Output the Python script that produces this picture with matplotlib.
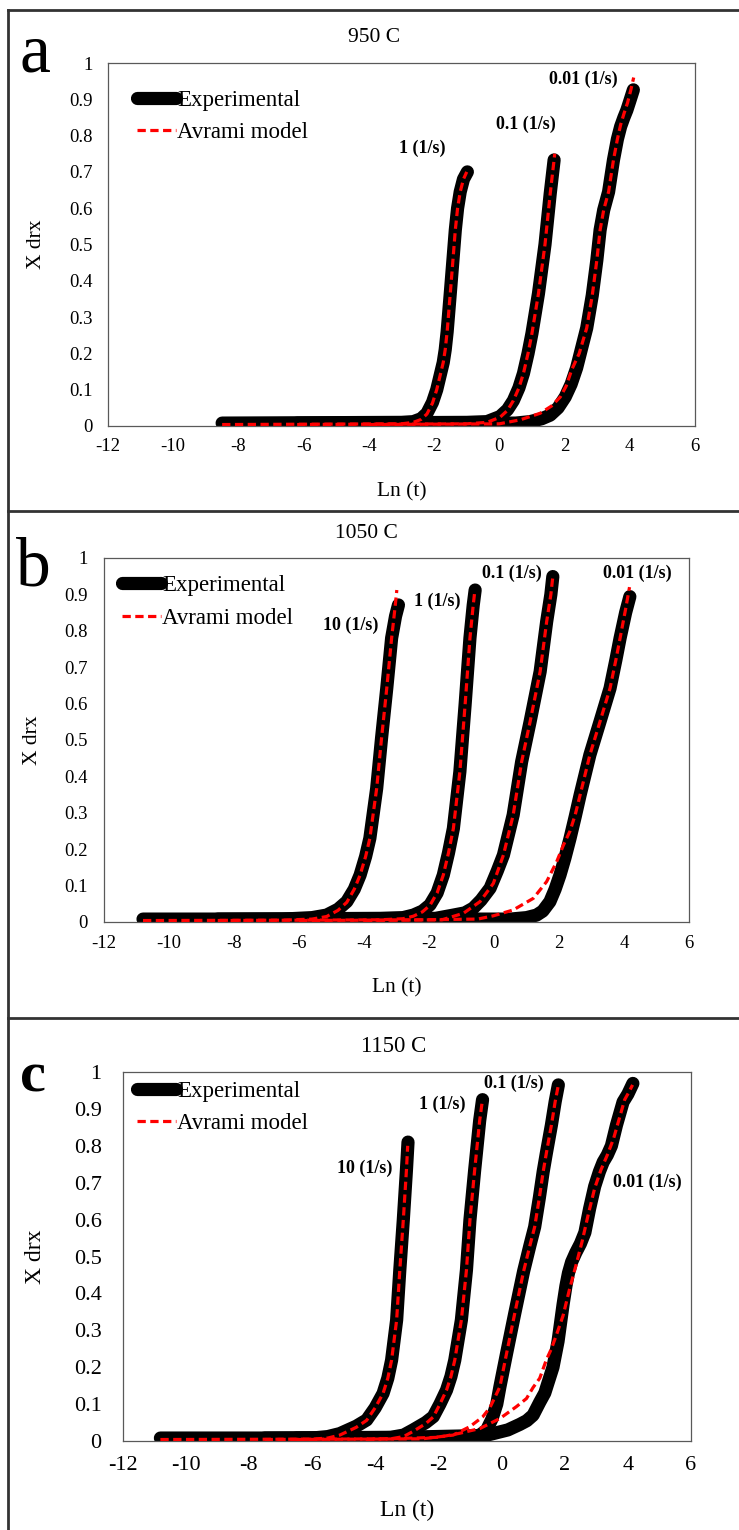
import matplotlib.pyplot as plt
from matplotlib.lines import Line2D

plt.rcParams['font.family'] = ['Liberation Serif', 'DejaVu Serif']

W, H = 739, 1530  # output size in pixels

# ---------------- 950 C (panel a) ----------------
a_exp1_x = [-8.5, -3.0, -2.64, -2.4, -2.22, -2.05, -1.92, -1.8, -1.72, -1.66, -1.6, -1.5, -1.42, -1.35, -1.28, -1.2, -1.1, -0.98]
a_exp1_y = [0.008, 0.01, 0.012, 0.02, 0.035, 0.065, 0.10, 0.145, 0.175, 0.21, 0.26, 0.37, 0.46, 0.54, 0.60, 0.645, 0.68, 0.70]
a_mod1_x = [-8.5, -3.0, -2.64, -2.4, -2.22, -2.05, -1.92, -1.8, -1.72, -1.66, -1.6, -1.5, -1.42, -1.35, -1.28, -1.2, -1.1, -1.0]
a_mod1_y = [0.004, 0.006, 0.01, 0.018, 0.033, 0.063, 0.10, 0.145, 0.175, 0.21, 0.26, 0.37, 0.46, 0.54, 0.60, 0.645, 0.68, 0.70]

a_exp2_x = [-6.2, -1.0, -0.38, 0.02, 0.25, 0.43, 0.6, 0.74, 0.88, 1.0, 1.2, 1.4, 1.56, 1.68]
a_exp2_y = [0.008, 0.01, 0.012, 0.026, 0.045, 0.07, 0.105, 0.145, 0.2, 0.255, 0.365, 0.50, 0.64, 0.733]
a_mod2_x = [-6.2, -1.0, -0.38, 0.02, 0.25, 0.43, 0.6, 0.74, 0.88, 1.0, 1.2, 1.4, 1.56, 1.70]
a_mod2_y = [0.004, 0.006, 0.01, 0.024, 0.043, 0.07, 0.105, 0.145, 0.2, 0.255, 0.365, 0.50, 0.64, 0.75]

a_exp3_x = [-4.0, 0.5, 0.94, 1.3, 1.56, 1.8, 2.02, 2.2, 2.37, 2.68, 2.85, 2.99, 3.09, 3.2, 3.35, 3.5, 3.62, 3.72, 3.82, 3.91, 4.0, 4.11]
a_exp3_y = [0.008, 0.008, 0.012, 0.02, 0.03, 0.05, 0.08, 0.115, 0.16, 0.27, 0.36, 0.457, 0.54, 0.595, 0.645, 0.733, 0.79, 0.825, 0.85, 0.87, 0.895, 0.926]
a_mod3_x = [-4.0, 0.0, 0.64, 1.25, 1.6, 1.87, 2.05, 2.22, 2.45, 2.68, 2.85, 2.99, 3.09, 3.2, 3.35, 3.5, 3.62, 3.72, 3.82, 3.93, 4.03, 4.12]
a_mod3_y = [0.004, 0.006, 0.017, 0.035, 0.055, 0.08, 0.11, 0.155, 0.2, 0.27, 0.36, 0.457, 0.54, 0.595, 0.645, 0.733, 0.79, 0.83, 0.86, 0.89, 0.925, 0.96]

a_rates = ['1 (1/s)', '0.1 (1/s)', '0.01 (1/s)']
a_rate_x = [-2.37, 0.82, 2.57]
a_rate_y = [0.766, 0.83, 0.956]

# ---------------- 1050 C (panel b) ----------------
b_exp1_x = [-10.8, -6.5, -5.6, -5.15, -4.8, -4.53, -4.3, -4.12, -3.95, -3.82, -3.61, -3.46, -3.30, -3.15, -3.03, -2.94]
b_exp1_y = [0.008, 0.008, 0.012, 0.019, 0.035, 0.056, 0.09, 0.129, 0.18, 0.23, 0.367, 0.505, 0.642, 0.78, 0.84, 0.871]
b_mod1_x = [-10.8, -6.5, -5.6, -5.15, -4.8, -4.53, -4.3, -4.12, -3.95, -3.82, -3.61, -3.46, -3.30, -3.15, -3.05, -2.99]
b_mod1_y = [0.004, 0.005, 0.008, 0.015, 0.032, 0.054, 0.09, 0.129, 0.18, 0.23, 0.367, 0.505, 0.642, 0.78, 0.86, 0.912]

b_exp2_x = [-8.5, -3.5, -2.8, -2.48, -2.2, -1.97, -1.75, -1.56, -1.4, -1.25, -1.05, -0.89, -0.74, -0.64, -0.58]
b_exp2_y = [0.008, 0.01, 0.012, 0.019, 0.03, 0.047, 0.08, 0.129, 0.19, 0.257, 0.413, 0.596, 0.78, 0.87, 0.912]
b_mod2_x = [-8.5, -3.5, -2.8, -2.48, -2.2, -1.97, -1.75, -1.56, -1.4, -1.25, -1.05, -0.89, -0.74, -0.64, -0.59]
b_mod2_y = [0.004, 0.006, 0.009, 0.016, 0.028, 0.046, 0.08, 0.129, 0.19, 0.257, 0.413, 0.596, 0.78, 0.87, 0.91]

b_exp3_x = [-6.0, -1.8, -1.25, -0.9, -0.64, -0.4, -0.12, 0.1, 0.29, 0.59, 0.85, 1.11, 1.42, 1.62, 1.75, 1.81]
b_exp3_y = [0.008, 0.01, 0.019, 0.025, 0.038, 0.06, 0.093, 0.14, 0.184, 0.294, 0.44, 0.55, 0.688, 0.825, 0.9, 0.949]
b_mod3_x = [-6.0, -1.6, -0.94, -0.43, -0.02, 0.29, 0.59, 0.85, 1.11, 1.42, 1.62, 1.75, 1.81]
b_mod3_y = [0.004, 0.006, 0.024, 0.056, 0.106, 0.184, 0.294, 0.44, 0.55, 0.688, 0.825, 0.9, 0.949]

b_exp4_x = [-4.0, 0.5, 1.0, 1.31, 1.5, 1.72, 1.88, 2.03, 2.18, 2.34, 2.5, 2.65, 2.95, 3.26, 3.57, 3.75, 3.88, 4.05, 4.18]
b_exp4_y = [0.008, 0.008, 0.012, 0.019, 0.03, 0.056, 0.09, 0.129, 0.175, 0.23, 0.29, 0.349, 0.459, 0.55, 0.642, 0.72, 0.78, 0.85, 0.894]
b_mod4_x = [-4.0, -0.5, -0.02, 0.59, 1.21, 1.62, 1.93, 2.13, 2.34, 2.5, 2.65, 2.95, 3.26, 3.57, 3.75, 3.88, 4.05, 4.17]
b_mod4_y = [0.004, 0.008, 0.017, 0.033, 0.065, 0.111, 0.166, 0.21, 0.25, 0.295, 0.349, 0.459, 0.55, 0.642, 0.72, 0.78, 0.86, 0.92]

b_rates = ['10 (1/s)', '1 (1/s)', '0.1 (1/s)', '0.01 (1/s)']
b_rate_x = [-4.4, -1.74, 0.56, 4.42]
b_rate_y = [0.816, 0.88, 0.958, 0.958]

# ---------------- 1150 C (panel c) ----------------
c_exp1_x = [-10.8, -6.0, -5.5, -5.12, -4.6, -4.27, -4.0, -3.75, -3.6, -3.48, -3.32, -3.22, -3.11, -3.01, -2.96]
c_exp1_y = [0.008, 0.008, 0.012, 0.02, 0.04, 0.057, 0.09, 0.129, 0.17, 0.219, 0.328, 0.463, 0.598, 0.734, 0.81]
c_mod1_x = [-10.8, -6.0, -5.5, -5.12, -4.6, -4.27, -4.0, -3.75, -3.6, -3.48, -3.32, -3.22, -3.11, -3.01, -2.97]
c_mod1_y = [0.004, 0.005, 0.008, 0.016, 0.037, 0.056, 0.09, 0.129, 0.17, 0.219, 0.328, 0.463, 0.598, 0.734, 0.80]

c_exp2_x = [-7.5, -3.5, -3.1, -2.8, -2.4, -2.16, -1.95, -1.74, -1.6, -1.48, -1.27, -1.11, -1.0, -0.85, -0.69, -0.6]
c_exp2_y = [0.008, 0.01, 0.016, 0.03, 0.05, 0.066, 0.1, 0.138, 0.175, 0.219, 0.328, 0.463, 0.598, 0.734, 0.869, 0.925]
c_mod2_x = [-7.5, -3.5, -3.1, -2.8, -2.4, -2.16, -1.95, -1.74, -1.6, -1.48, -1.27, -1.11, -1.0, -0.85, -0.69, -0.61]
c_mod2_y = [0.004, 0.006, 0.012, 0.026, 0.047, 0.065, 0.1, 0.138, 0.175, 0.219, 0.328, 0.463, 0.598, 0.734, 0.869, 0.92]

c_exp3_x = [-6.5, -1.0, -0.7, -0.47, -0.3, -0.15, -0.05, 0.16, 0.42, 0.7, 0.9, 1.05, 1.2, 1.32, 1.42, 1.58, 1.7, 1.8]
c_exp3_y = [0.008, 0.01, 0.015, 0.03, 0.06, 0.10, 0.147, 0.237, 0.346, 0.46, 0.53, 0.58, 0.66, 0.73, 0.78, 0.856, 0.92, 0.965]
c_mod3_x = [-6.5, -2.5, -1.53, -1.0, -0.6, -0.37, -0.2, -0.05, 0.16, 0.42, 0.7, 0.9, 1.05, 1.2, 1.32, 1.42, 1.58, 1.7, 1.79]
c_mod3_y = [0.004, 0.006, 0.016, 0.039, 0.065, 0.09, 0.12, 0.147, 0.237, 0.346, 0.46, 0.53, 0.58, 0.66, 0.73, 0.78, 0.856, 0.92, 0.96]

c_exp4_x = [-4.3, -0.5, 0.2, 0.58, 0.8, 1.0, 1.21, 1.37, 1.5, 1.63, 1.79, 1.95, 2.04, 2.12, 2.22, 2.35, 2.5, 2.64, 2.79, 2.95, 3.1, 3.22, 3.35, 3.48, 3.64, 3.85, 4.0, 4.16]
c_exp4_y = [0.008, 0.015, 0.03, 0.045, 0.055, 0.07, 0.105, 0.13, 0.165, 0.2, 0.27, 0.37, 0.42, 0.455, 0.485, 0.51, 0.535, 0.565, 0.63, 0.69, 0.73, 0.756, 0.775, 0.80, 0.856, 0.919, 0.94, 0.969]
c_mod4_x = [-4.3, -2.0, -1.32, -0.68, -0.05, 0.47, 0.79, 1.0, 1.21, 1.42, 1.58, 1.75, 1.95, 2.15, 2.37, 2.55, 2.75, 2.95, 3.15, 3.35, 3.55, 3.75, 3.9, 4.03, 4.15]
c_mod4_y = [0.004, 0.01, 0.021, 0.034, 0.061, 0.093, 0.115, 0.145, 0.17, 0.22, 0.25, 0.29, 0.34, 0.41, 0.48, 0.54, 0.615, 0.685, 0.735, 0.775, 0.82, 0.88, 0.925, 0.945, 0.965]

c_rates = ['10 (1/s)', '1 (1/s)', '0.1 (1/s)', '0.01 (1/s)']
c_rate_x = [-4.33, -1.89, 0.38, 4.63]
c_rate_y = [0.738, 0.912, 0.97, 0.70]

titles = ['950 C', '1050 C', '1150 C']
letters = ['a', 'b', 'c']
x_ticks = list(range(-12, 7, 2))
y_ticks = [i / 10 for i in range(11)]
y_tick_labels = ['0'] + ['%.1f' % v for v in y_ticks[1:-1]] + ['1']


def px_box(left, right, top, bottom):
    return [left / W, 1 - bottom / H, (right - left) / W, (bottom - top) / H]


fig = plt.figure(figsize=(W / 100, H / 100), dpi=100, facecolor='w')

panels = [
    dict(box=px_box(108, 695, 63, 426),
         exp=[(a_exp1_x, a_exp1_y), (a_exp2_x, a_exp2_y), (a_exp3_x, a_exp3_y)],
         mod=[(a_mod1_x, a_mod1_y), (a_mod2_x, a_mod2_y), (a_mod3_x, a_mod3_y)],
         rates=a_rates, rx=a_rate_x, ry=a_rate_y,
         tick_fs=13.5, lab_fs=15.5, title_fs=15.5, xpad=8.5, ypad=11,
         ylab_x=-0.121, xlab_y=-0.181, leg=(0.05, 0.926),
         title_xy=(374, 38), letter_xy=(20, 72), letter_fs=50, letter_w='normal'),
    dict(box=px_box(104, 689, 558, 922),
         exp=[(b_exp1_x, b_exp1_y), (b_exp2_x, b_exp2_y), (b_exp3_x, b_exp3_y), (b_exp4_x, b_exp4_y)],
         mod=[(b_mod1_x, b_mod1_y), (b_mod2_x, b_mod2_y), (b_mod3_x, b_mod3_y), (b_mod4_x, b_mod4_y)],
         rates=b_rates, rx=b_rate_x, ry=b_rate_y,
         tick_fs=13.5, lab_fs=15.5, title_fs=15.5, xpad=9, ypad=12,
         ylab_x=-0.123, xlab_y=-0.182, leg=(0.031, 0.953),
         title_xy=(366, 533), letter_xy=(16, 585), letter_fs=50, letter_w='normal'),
    dict(box=px_box(122.5, 691, 1072, 1441),
         exp=[(c_exp1_x, c_exp1_y), (c_exp2_x, c_exp2_y), (c_exp3_x, c_exp3_y), (c_exp4_x, c_exp4_y)],
         mod=[(c_mod1_x, c_mod1_y), (c_mod2_x, c_mod2_y), (c_mod3_x, c_mod3_y), (c_mod4_x, c_mod4_y)],
         rates=c_rates, rx=c_rate_x, ry=c_rate_y,
         tick_fs=16, lab_fs=17, title_fs=16.5, xpad=11, ypad=15,
         ylab_x=-0.153, xlab_y=-0.187, leg=(0.025, 0.976),
         title_xy=(394, 1046), letter_xy=(20, 1092), letter_fs=42, letter_w='bold'),
]

for i, p in enumerate(panels):
    ax = fig.add_axes(p['box'])
    exp_lines = []
    for x, y in p['exp']:
        ln, = ax.plot(x, y, color='black', lw=9.5, solid_capstyle='round',
                      solid_joinstyle='round', zorder=2)
        exp_lines.append(ln)
    mod_lines = []
    for x, y in p['mod']:
        ln, = ax.plot(x, y, color='#ff0000', lw=2.3, linestyle=(0, (2.6, 1.4)), zorder=3)
        mod_lines.append(ln)

    for s, tx, ty in zip(p['rates'], p['rx'], p['ry']):
        ax.text(tx, ty, s, ha='center', va='center', fontsize=13, fontweight='bold')

    ax.set_xlim(-12, 6)
    ax.set_ylim(0, 1)
    ax.set_xticks(x_ticks)
    ax.set_xticklabels([str(v) for v in x_ticks])
    ax.set_yticks(y_ticks)
    ax.set_yticklabels(y_tick_labels)
    ax.tick_params(axis='both', length=0, labelsize=p['tick_fs'])
    ax.tick_params(axis='x', pad=p['xpad'])
    ax.tick_params(axis='y', pad=p['ypad'])
    for sp in ax.spines.values():
        sp.set_color('#595959')
        sp.set_linewidth(0.9)

    ax.set_ylabel('X drx', fontsize=p['lab_fs'])
    ax.yaxis.set_label_coords(p['ylab_x'], 0.5)
    ax.set_xlabel('Ln (t)', fontsize=p['lab_fs'])
    ax.xaxis.set_label_coords(0.5, p['xlab_y'])
    ax.xaxis.label.set_va('center')
    ax.yaxis.label.set_va('center')

    ax.legend([exp_lines[0], mod_lines[0]], ['Experimental', 'Avrami model'],
              loc='upper left', bbox_to_anchor=p['leg'], frameon=False,
              fontsize=16.5, handlelength=1.7, handletextpad=0.05,
              labelspacing=0.5, borderpad=0, borderaxespad=0)

    fig.text(p['title_xy'][0] / W, 1 - p['title_xy'][1] / H, titles[i],
             ha='center', va='center', fontsize=p['title_fs'])
    fig.text(p['letter_xy'][0] / W, 1 - p['letter_xy'][1] / H, letters[i],
             ha='left', va='baseline', fontsize=p['letter_fs'], fontweight=p['letter_w'])

# panel frame lines
frame = dict(color='#333333', lw=2, transform=fig.transFigure)
fig.add_artist(Line2D([8 / W, 1], [1 - 10 / H, 1 - 10 / H], **frame))
fig.add_artist(Line2D([8 / W, 8 / W], [1 - 10 / H, 0], **frame))
fig.add_artist(Line2D([8 / W, 1], [1 - 511 / H, 1 - 511 / H], **frame))
fig.add_artist(Line2D([8 / W, 1], [1 - 1018 / H, 1 - 1018 / H], **frame))

plt.savefig('out.png', dpi=100)
